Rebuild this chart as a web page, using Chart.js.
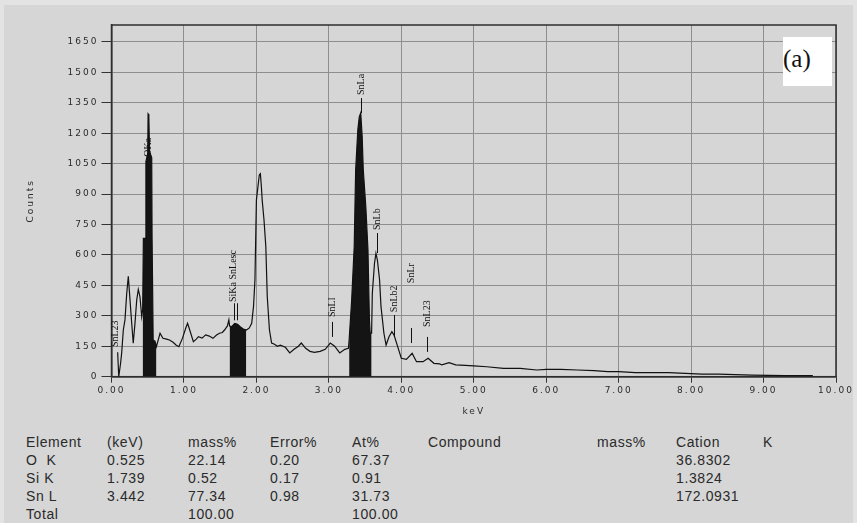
<!DOCTYPE html>
<html>
<head>
<meta charset="utf-8">
<script src="https://cdn.jsdelivr.net/npm/chart.js@4.4.1/dist/chart.umd.min.js"></script>
<style>
html, body { margin: 0; padding: 0; background: #e3e3e3; }
#wrap { position: relative; width: 857px; height: 523px; overflow: hidden; }
#panel { position: absolute; left: 4px; top: 5px; width: 849px; height: 518px; background: #d6d6d6; }
#spectrum { position: absolute; left: 0; top: 0; }
#tag { position: absolute; left: 783px; top: 37px; width: 49px; height: 49px; background: #fff;
       font: 25px "Liberation Serif"; color: #111; line-height: 25px; }
#tag span { position: absolute; left: 0; top: 9px; }
#results { position: absolute; left: 26px; top: 433px; border-collapse: collapse; table-layout: fixed;
           font: 14px "Liberation Sans", Arial, sans-serif; color: #2a2a2a; letter-spacing: 0.6px; }
#results td { padding: 0; height: 18px; line-height: 18px; white-space: nowrap; }
</style>
</head>
<body>
<div id="wrap">
  <div id="panel"></div>
  <canvas id="spectrum" width="857" height="425"></canvas>
  <div id="tag"><span>(a)</span></div>
  <table id="results">
    <colgroup>
      <col style="width:81px"><col style="width:81px"><col style="width:82px"><col style="width:82px">
      <col style="width:76px"><col style="width:169px"><col style="width:79px"><col style="width:87px"><col style="width:40px">
    </colgroup>
    <tbody></tbody>
  </table>
</div>
<script>
// EDS spectrum: energy (keV) and counts
const energies = [0.085, 0.10, 0.125, 0.14, 0.163, 0.186, 0.21, 0.232, 0.245, 0.255, 0.279, 0.30, 0.324, 0.348, 0.37, 0.393, 0.417,
  0.43, 0.44, 0.47, 0.475, 0.50, 0.505, 0.515, 0.525, 0.555, 0.56, 0.57, 0.575, 0.60, 0.62,
  0.67, 0.71, 0.76, 0.80, 0.85, 0.89, 0.93, 0.98, 1.03, 1.05, 1.08, 1.13, 1.17, 1.20, 1.25, 1.30, 1.35, 1.40, 1.45, 1.49,
  1.53, 1.56, 1.60, 1.62, 1.63, 1.66, 1.70, 1.74, 1.78, 1.82, 1.86, 1.90, 1.935, 1.96, 1.98, 2.00, 2.04, 2.055, 2.07,
  2.08, 2.105, 2.13, 2.15, 2.18, 2.21, 2.25, 2.29, 2.33, 2.40, 2.46, 2.52, 2.58, 2.62, 2.68, 2.74, 2.80, 2.88, 2.95,
  3.02, 3.08, 3.15, 3.22, 3.27, 3.28, 3.315, 3.35, 3.37, 3.40, 3.42, 3.44, 3.46, 3.475, 3.51, 3.54, 3.56, 3.57, 3.59,
  3.60, 3.63, 3.65, 3.67, 3.70, 3.72, 3.76, 3.79, 3.83, 3.87, 3.90, 3.95, 4.00, 4.07, 4.15, 4.21, 4.30, 4.37, 4.45,
  4.53, 4.56, 4.66, 4.75, 4.88, 5.00, 5.18, 5.41, 5.64, 5.87, 6.00, 6.20, 6.43, 6.66, 6.85, 7.00, 7.23, 7.46, 7.69,
  7.92, 8.15, 8.38, 8.61, 8.84, 9.07, 9.30, 9.68];
const counts = [120, 0, 65, 115, 230, 280, 410, 495, 430, 430, 263, 165, 263, 378, 430, 394, 296,
  330, 682, 682, 1060, 1100, 1295, 1290, 1110, 1080, 682, 682, 181, 175, 148,
  214, 189, 185, 181, 170, 156, 148, 190, 245, 263, 230, 173, 185, 197, 190, 206, 200, 189, 205, 214,
  218, 230, 250, 280, 250, 247, 263, 258, 245, 235, 230, 239, 263, 345, 477, 870, 994, 1000, 930,
  870, 772, 641, 394, 230, 166, 160, 150, 155, 145, 117, 135, 150, 166, 140, 125, 120, 125, 135,
  166, 150, 117, 135, 140, 181, 378, 641, 1019, 1216, 1280, 1300, 1183, 1019, 838, 624, 279, 215, 215,
  411, 559, 608, 575, 477, 345, 214, 156, 197, 222, 205, 148, 91, 85, 115, 74, 74, 91, 66,
  63, 58, 69, 58, 56, 53, 49, 41, 41, 33, 36, 36, 33, 30, 25, 25, 20, 20, 20,
  16, 13, 13, 10, 8, 7, 5, 5];

// energy windows shaded black (O K, Si K, Sn L)
const fillWindows = [[0.43, 0.62], [1.625, 1.86], [3.28, 3.59]];

const xTicks = [0, 1, 2, 3, 4, 5, 6, 7, 8, 9, 10];
const xTickLabels = ['0.00', '1.00', '2.00', '3.00', '4.00', '5.00', '6.00', '7.00', '8.00', '9.00', '10.00'];
const yTicks = [0, 150, 300, 450, 600, 750, 900, 1050, 1200, 1350, 1500, 1650];
const yTickLabels = ['0', '150', '300', '450', '600', '750', '900', '1050', '1200', '1350', '1500', '1650'];

// peak markers: text, energy, counts where text starts, marker line [from, to]
const peakLabels = [
  { text: 'SnL23', e: 0.05, base: 146, tick: null },
  { text: 'OKa', e: 0.51, base: 1084, tick: null },
  { text: 'SiKa SnLesc', e: 1.677, base: 368, tick: null },
  { text: '', e: 1.695, base: 0, tick: [278, 362] },
  { text: '', e: 1.73, base: 0, tick: [278, 362] },
  { text: 'SnLl', e: 3.05, base: 294, tick: [196, 270] },
  { text: 'SnLa', e: 3.44, base: 1388, tick: [1299, 1373] },
  { text: 'SnLb', e: 3.66, base: 723, tick: [609, 708] },
  { text: 'SnLb2', e: 3.90, base: 318, tick: [196, 304] },
  { text: 'SnLr', e: 4.13, base: 461, tick: [166, 240] },
  { text: 'SnL23', e: 4.36, base: 245, tick: [122, 196] }
];

const tableHeader = ['Element', '(keV)', 'mass%', 'Error%', 'At%', 'Compound', 'mass%', 'Cation', 'K'];
const tableRows = [
  ['O\u00a0\u00a0K', '0.525', '22.14', '0.20', '67.37', '', '', '36.8302', ''],
  ['Si K', '1.739', '0.52', '0.17', '0.91', '', '', '1.3824', ''],
  ['Sn L', '3.442', '77.34', '0.98', '31.73', '', '', '172.0931', ''],
  ['Total', '', '100.00', '', '100.00', '', '', '', '']
];

// result table under the plot
const tbody = document.querySelector('#results tbody');
[tableHeader].concat(tableRows).forEach(r => {
  const tr = tbody.insertRow();
  r.forEach(c => { tr.insertCell().textContent = c; });
});

const spectrum = energies.map((e, i) => ({ x: e, y: counts[i] }));
const fillSets = fillWindows.map(w => ({
  data: spectrum.filter(p => p.x >= w[0] && p.x <= w[1]),
  borderWidth: 0,
  pointRadius: 0,
  backgroundColor: '#141414',
  fill: 'origin'
}));

const peakPlugin = {
  id: 'peaks',
  beforeDraw(chart) {
    chart.ctx.letterSpacing = '2px';
  },
  beforeDatasetsDraw(chart) {
    const { ctx, chartArea: a } = chart;
    ctx.letterSpacing = '0px';
    ctx.save();
    ctx.strokeStyle = '#2e2e2e';
    ctx.lineWidth = 1.5;
    ctx.strokeRect(a.left, a.top, a.right - a.left, a.bottom - a.top);
    ctx.restore();
  },
  afterDatasetsDraw(chart) {
    const { ctx, scales: { x, y } } = chart;
    ctx.save();
    ctx.fillStyle = '#111';
    ctx.strokeStyle = '#111';
    ctx.lineWidth = 1;
    ctx.font = '10px "Liberation Serif"';
    peakLabels.forEach(p => {
      const px = Math.round(x.getPixelForValue(p.e)) + 0.5;
      if (p.tick) {
        ctx.beginPath();
        ctx.moveTo(px, y.getPixelForValue(p.tick[0]));
        ctx.lineTo(px, y.getPixelForValue(p.tick[1]));
        ctx.stroke();
      }
      if (p.text) {
        ctx.save();
        ctx.translate(px, y.getPixelForValue(p.base));
        ctx.rotate(-Math.PI / 2);
        ctx.textAlign = 'left';
        ctx.textBaseline = 'middle';
        ctx.fillText(p.text, 0, 0);
        ctx.restore();
      }
    });
    ctx.restore();
  }
};

const tickFont = { family: 'DejaVu Sans', size: 9 };

new Chart(document.getElementById('spectrum'), {
  type: 'line',
  data: {
    datasets: [{
      data: spectrum,
      borderColor: '#111',
      borderWidth: 1.2,
      pointRadius: 0,
      tension: 0,
      fill: false
    }].concat(fillSets)
  },
  options: {
    responsive: false,
    animation: false,
    devicePixelRatio: 1,
    layout: { padding: { left: 0, right: 21, top: 25, bottom: 0 } },
    plugins: { legend: { display: false }, tooltip: { enabled: false } },
    scales: {
      x: {
        type: 'linear',
        min: 0,
        max: 10,
        afterFit: s => { s.height = 48.3; },
        afterBuildTicks: s => { s.ticks = xTicks.map(v => ({ value: v })); },
        ticks: {
          color: '#2b2b2b',
          font: tickFont,
          padding: 3,
          maxRotation: 0,
          callback: (v) => xTickLabels[xTicks.indexOf(v)]
        },
        grid: { color: '#8e8e8e', lineWidth: 1, tickLength: 6, tickColor: '#333' },
        border: { color: '#2e2e2e', width: 1.5 },
        title: { display: true, text: 'keV', color: '#2b2b2b', font: tickFont, padding: { top: 0, bottom: 7.6 } }
      },
      y: {
        min: 0,
        max: 1733,
        afterFit: s => { s.width = 111.5; },
        afterBuildTicks: s => { s.ticks = yTicks.map(v => ({ value: v })); },
        ticks: {
          color: '#2b2b2b',
          font: tickFont,
          padding: 3,
          callback: (v) => yTickLabels[yTicks.indexOf(v)]
        },
        grid: { color: '#8e8e8e', lineWidth: 1, tickLength: 10, tickColor: '#333' },
        border: { color: '#2e2e2e', width: 1.5 },
        title: { display: true, text: 'Counts', color: '#2b2b2b', font: tickFont, padding: { top: 25.6, bottom: 0 } }
      }
    }
  },
  plugins: [peakPlugin]
});
</script>
</body>
</html>
